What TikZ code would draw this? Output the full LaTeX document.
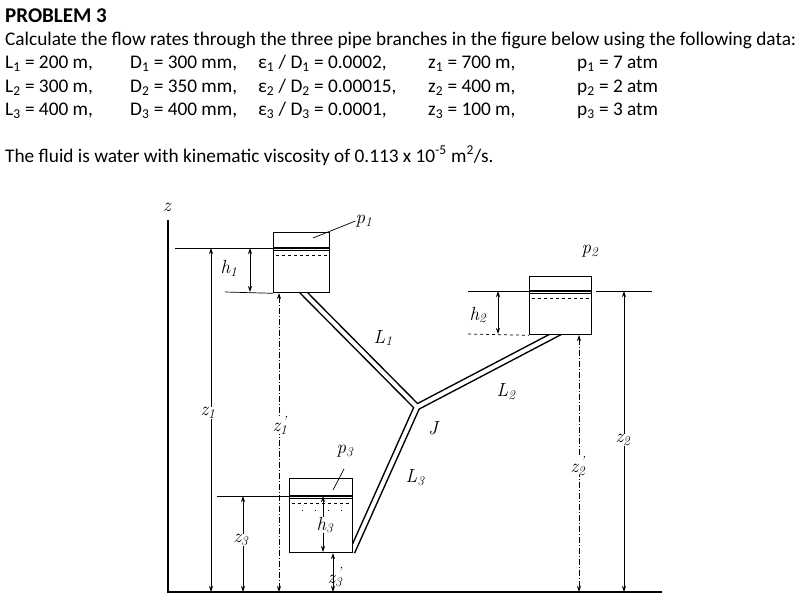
\documentclass[tikz,border=0pt]{standalone}
\usepackage{fontspec}
\setmainfont{Carlito}
\newfontfamily\lmrfont{Latin Modern Roman}
\newcommand\vv[2]{#1\textsubscript{#2}}
\newcommand\vp[2]{#1\rlap{\textsuperscript{\,\textquoteright}}\textsubscript{#2}}
\usetikzlibrary{arrows.meta}
\begin{document}
\begin{tikzpicture}[x=1pt,y=-1pt,
  txt/.style={anchor=base west,inner sep=0pt,font=\fontsize{19.3}{22}\selectfont},
  lab/.style={inner sep=0pt,font=\lmrfont\itshape\fontsize{19}{21}\selectfont},
  dim/.style={{Stealth[length=6pt,width=4pt]}-{Stealth[length=6pt,width=4pt]},line width=0.8pt},
  dimd/.style={dim,dash pattern=on 6pt off 2pt on 1pt off 2pt},
  thin/.style={line width=0.7pt},
  tank/.style={draw,line width=1.3pt,fill=white},
  pipeo/.style={line width=7pt,line join=miter},
  pipei/.style={white,line width=4pt,line join=miter}]
\useasboundingbox (0,0) rectangle (809,603);
% text
\node[txt,font=\fontsize{21}{24}\selectfont\bfseries] (t0) at (5,22) {PROBLEM 3};
\node[txt] (t1) at (5,45) {Calculate the flow rates through the three pipe branches in the figure below using the following data:};
\node[txt] (a1) at (5,68) {L\textsubscript{1} = 200 m,};
\node[txt] (a2) at (5,92) {L\textsubscript{2} = 300 m,};
\node[txt] (a3) at (5,115) {L\textsubscript{3} = 400 m,};
\node[txt] (b1) at (130,68) {D\textsubscript{1} = 300 mm,};
\node[txt] (b2) at (130,92) {D\textsubscript{2} = 350 mm,};
\node[txt] (b3) at (130,115) {D\textsubscript{3} = 400 mm,};
\node[txt] (c1) at (258,68) {ε\textsubscript{1} / D\textsubscript{1} = 0.0002,};
\node[txt] (c2) at (258,92) {ε\textsubscript{2} / D\textsubscript{2} = 0.00015,};
\node[txt] (c3) at (258,115) {ε\textsubscript{3} / D\textsubscript{3} = 0.0001,};
\node[txt] (d1) at (428,68) {z\textsubscript{1} = 700 m,};
\node[txt] (d2) at (428,92) {z\textsubscript{2} = 400 m,};
\node[txt] (d3) at (428,115) {z\textsubscript{3} = 100 m,};
\node[txt] (e1) at (577,68) {p\textsubscript{1} = 7 atm};
\node[txt] (e2) at (577,92) {p\textsubscript{2} = 2 atm};
\node[txt] (e3) at (577,115) {p\textsubscript{3} = 3 atm};
\node[txt] (t2) at (5,162) {The fluid is water with kinematic viscosity of 0.113 x 10\textsuperscript{-5} m\textsuperscript{2}/s.};
% axes
\coordinate (ztop) at (168,220); \coordinate (zbot) at (168,592);
\coordinate (bend) at (662,592);
\draw[line width=1.1pt] (ztop) -- (zbot) -- (bend);
\node[lab] (zl) at (167,207) {z};
% pipes
\coordinate (J) at (417,407);
\coordinate (P1) at (300,289);
\coordinate (P2) at (560,332);
\coordinate (P3) at (352,552);
\draw[pipeo] (P1) -- (J) -- (P2); \draw[pipeo] (J) -- (P3);
\draw[pipei] (P1) -- (J) -- (P2); \draw[pipei] (J) -- (P3);
% tanks
\node[tank,minimum width=56pt,minimum height=60pt,anchor=north west,inner sep=0pt] (T1) at (273,232) {};
\node[tank,minimum width=62pt,minimum height=58pt,anchor=north west,inner sep=0pt] (T2) at (529,276) {};
\node[tank,minimum width=63pt,minimum height=74pt,anchor=north west,inner sep=0pt] (T3) at (289,478) {};
% water lines
\foreach \t/\y in {T1/248,T2/291,T3/496}{
  \draw[line width=1.2pt] (\t.west |- 0,\y) -- (\t.east |- 0,\y);
  \draw[thin] (\t.west |- 0,\y+2.5) -- (\t.east |- 0,\y+2.5);
  \draw[thin,dashed] ([xshift=3pt]\t.west |- 0,\y+7) -- ([xshift=-3pt]\t.east |- 0,\y+7);
}
\draw[thin,dash pattern=on 1pt off 12pt] (T3.west |- 0,510) -- (T3.east |- 0,510);
% reference lines
\coordinate (h1a) at (175,248); \coordinate (h1b) at (225,292);
\draw[thin] (h1a) -- (T1.west |- h1a);
\draw[thin] (h1b) -- (T1.south west);
\coordinate (h2a) at (468,291); \coordinate (h2b) at (468,334); \coordinate (h2c) at (652,291);
\draw[thin] (h2a) -- (T2.west |- h2a);
\draw[thin,dashed] (h2b) -- (T2.south west);
\draw[thin] (T2.east |- h2c) ++(4,0) -- (h2c);
\coordinate (z3a) at (217,496);
\draw[thin] (z3a) -- (T3.west |- z3a);
% dimensions
\draw[dim] (250,248) -- (250,292);
\node[lab] (h1) at (229,268) {\vv{h}{1}};
\draw[dim] (211,248) -- (211,592);
\node[lab,fill=white] (z1) at (208,413) {\vv{z}{1}};
\draw[dimd] (279,293) -- (279,592);
\node[lab,fill=white] (z1p) at (280,425) {\vp{z}{1}};
\draw[dim] (498,291) -- (498,334);
\node[lab] (h2) at (478,315) {\vv{h}{2}};
\draw[dim] (624,291) -- (624,592);
\node[lab,fill=white] (z2) at (623,440) {\vv{z}{2}};
\draw[dimd] (579,335) -- (579,592);
\node[lab,fill=white] (z2p) at (578,466) {\vp{z}{2}};
\draw[dim] (243,496) -- (243,592);
\node[lab,fill=white] (z3) at (241,540) {\vv{z}{3}};
\draw[dim] (323,496) -- (323,552);
\node[lab,fill=white] (h3) at (325,525) {\vv{h}{3}};
\draw[dim] (333,553) -- (333,592);
\node[lab] (z3p) at (335,577) {\vp{z}{3}};
% pressure labels
\node[lab] (p1) at (364,221) {\vv{p}{1}};
\draw[thin] (p1.west) -- (313,238);
\node[lab] (p2) at (590,251) {\vv{p}{2}};
\node[lab] (p3) at (345,451) {\vv{p}{3}};
\draw[thin] (344,469) -- (333,490);
% pipe labels
\node[lab] (L1) at (383,338) {\vv{L}{1}};
\node[lab] (L2) at (506,392) {\vv{L}{2}};
\node[lab] (L3) at (415,478) {\vv{L}{3}};
\node[lab] (Jl) at (433,428) {J};
\end{tikzpicture}
\end{document}
